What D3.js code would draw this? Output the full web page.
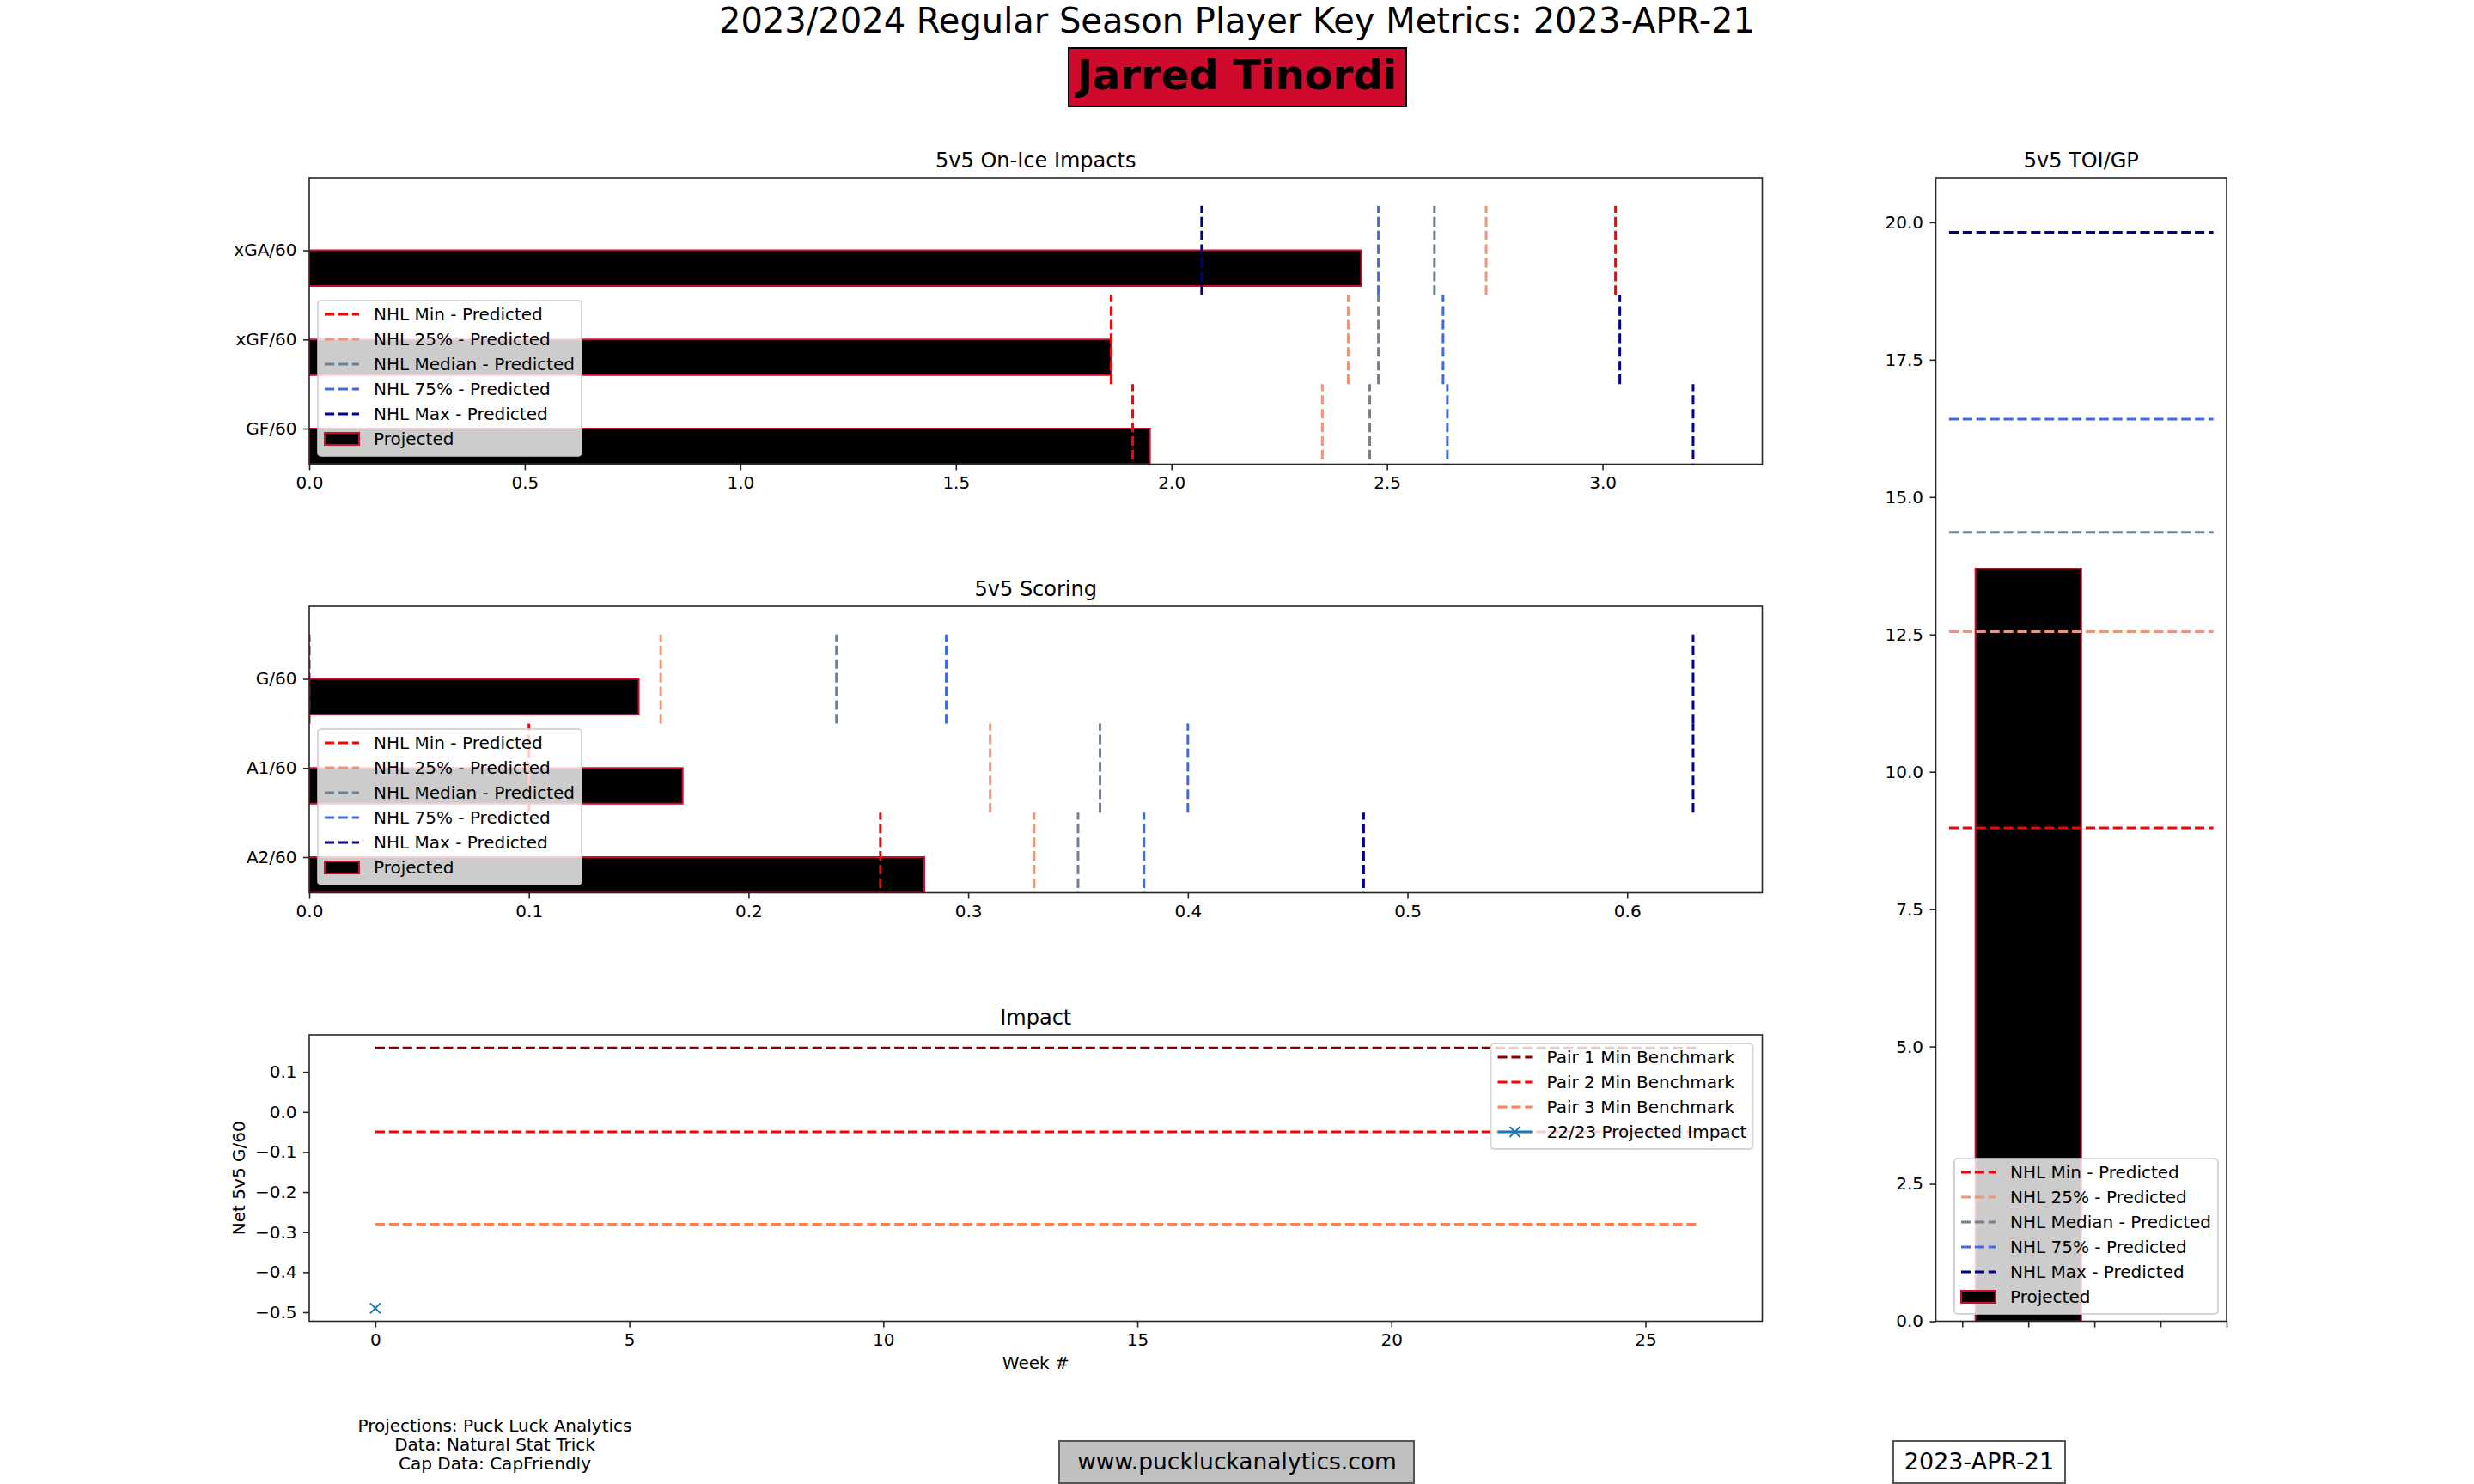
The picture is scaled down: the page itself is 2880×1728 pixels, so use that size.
<!DOCTYPE html>
<html>
<head>
<meta charset="utf-8">
<script src="https://cdn.jsdelivr.net/npm/d3@7"></script>
<style>
	body { margin: 0; background: #ffffff; }
	svg text { font-family: "DejaVu Sans", sans-serif; fill: #000000; }
</style>
</head>
<body>
<script>

//----------------------------
// Data
//----------------------------

var benchLabels = ["NHL Min - Predicted", "NHL 25% - Predicted", "NHL Median - Predicted",
	"NHL 75% - Predicted", "NHL Max - Predicted"];
var benchColors = ["#ff0000", "#e9967a", "#708090", "#4169e1", "#00008b"];

// 5v5 on-ice impacts (top to bottom)
var onIceCats = ["xGA/60", "xGF/60", "GF/60"];
var onIceProjected = [2.44, 1.86, 1.95];
var onIceMin = [3.03, 1.86, 1.91];
var onIceP25 = [2.73, 2.41, 2.35];
var onIceMedian = [2.61, 2.48, 2.46];
var onIceP75 = [2.48, 2.63, 2.64];
var onIceMax = [2.07, 3.04, 3.21];
var onIceTicks = [0, 0.5, 1.0, 1.5, 2.0, 2.5, 3.0];

// 5v5 scoring (top to bottom)
var scoringCats = ["G/60", "A1/60", "A2/60"];
var scoringProjected = [0.15, 0.17, 0.28];
var scoringMin = [0.00, 0.10, 0.26];
var scoringP25 = [0.16, 0.31, 0.33];
var scoringMedian = [0.24, 0.36, 0.35];
var scoringP75 = [0.29, 0.40, 0.38];
var scoringMax = [0.63, 0.63, 0.48];
var scoringTicks = [0, 0.1, 0.2, 0.3, 0.4, 0.5, 0.6];

// 5v5 TOI/GP
var toiProjected = 13.70;
var toiBench = [8.98, 12.55, 14.36, 16.42, 19.82];
var toiTicks = [0, 2.5, 5.0, 7.5, 10.0, 12.5, 15.0, 17.5, 20.0];

// Impact
var benchWeeks = [0, 26];
var pairLabels = ["Pair 1 Min Benchmark", "Pair 2 Min Benchmark", "Pair 3 Min Benchmark"];
var pairValues = [0.16, -0.05, -0.28];
var pairColors = ["#8b0000", "#ff0000", "#ff7f50"];
var impactLabel = "22/23 Projected Impact";
var impactWeeks = [0];
var impactValues = [-0.49];
var weekTicks = [0, 5, 10, 15, 20, 25];
var impactTicks = [0.1, 0.0, -0.1, -0.2, -0.3, -0.4, -0.5];

var footerLines = ["Projections: Puck Luck Analytics", "Data: Natural Stat Trick", "Cap Data: CapFriendly"];

//----------------------------
// Style parameters
//----------------------------

var teamRed = "#cf0a2c",
	spineColor = "#262626",
	fs = 20,
	dash = "11.1,4.8",
	lw = 3;

var svg = d3.select("body").append("svg")
	.attr("width", 2880)
	.attr("height", 1728);

svg.append("rect").attr("width", 2880).attr("height", 1728).attr("fill", "white");

// Titles

svg.append("text")
	.attr("x", 1440).attr("y", 38)
	.attr("text-anchor", "middle")
	.style("font-size", "40px")
	.text("2023/2024 Regular Season Player Key Metrics: 2023-APR-21");

svg.append("rect")
	.attr("x", 1244).attr("y", 56)
	.attr("width", 393).attr("height", 68)
	.attr("fill", teamRed)
	.attr("stroke", "#000").attr("stroke-width", 2);

svg.append("text")
	.attr("x", 1440).attr("y", 104)
	.attr("text-anchor", "middle")
	.style("font-size", "48px").style("font-weight", "bold")
	.text("Jarred Tinordi");

//----------------------------
// Helpers
//----------------------------

var clipId = 0;

function makePanel(x0, y0, w, h, title) {
	var g = svg.append("g").attr("transform", "translate(" + x0 + "," + y0 + ")");
	var id = "clip" + (clipId++);
	g.append("clipPath").attr("id", id)
		.append("rect").attr("width", w).attr("height", h);
	var plot = g.append("g").attr("clip-path", "url(#" + id + ")");
	g.append("text")
		.attr("x", w / 2).attr("y", -12.5)
		.attr("text-anchor", "middle")
		.style("font-size", "24px")
		.text(title);
	return {g: g, plot: plot, w: w, h: h};
}

function styleAxis(sel) {
	sel.select(".domain").remove();
	sel.selectAll(".tick line").attr("stroke", spineColor).attr("stroke-width", 1.6);
	sel.selectAll(".tick text")
		.attr("fill", "#000")
		.style("font-family", "'DejaVu Sans', sans-serif")
		.style("font-size", fs + "px");
}

function addAxes(p, x, y, xt, xf, yt, yf) {
	p.g.append("g")
		.attr("transform", "translate(0," + p.h + ")")
		.call(d3.axisBottom(x).tickValues(xt).tickFormat(xf).tickSize(7).tickPadding(7.5).tickSizeOuter(0))
		.call(styleAxis);
	p.g.append("g")
		.call(d3.axisLeft(y).tickValues(yt).tickFormat(yf).tickSize(7).tickPadding(7.5).tickSizeOuter(0))
		.call(styleAxis);
	p.g.append("rect")
		.attr("width", p.w).attr("height", p.h)
		.attr("fill", "none")
		.attr("stroke", spineColor).attr("stroke-width", 1.6);
}

// items: {label, color, kind: "line" | "bar" | "marker"}
function addLegend(p, lx, ly, lw2, items) {
	var rowH = 29;
	var lh = 32 + rowH * (items.length - 1) + 4;
	var lg = p.g.append("g").attr("transform", "translate(" + lx + "," + ly + ")");
	lg.append("rect")
		.attr("width", lw2).attr("height", lh)
		.attr("rx", 4).attr("ry", 4)
		.attr("fill", "white").attr("fill-opacity", 0.8)
		.attr("stroke", "#cccccc").attr("stroke-opacity", 0.8).attr("stroke-width", 2);
	var row = lg.selectAll("g.row").data(items).join("g")
		.attr("class", "row")
		.attr("transform", function(d, i) { return "translate(0," + (16 + i * rowH) + ")"; });
	row.each(function(d) {
		var r = d3.select(this);
		if (d.kind === "bar") {
			r.append("rect")
				.attr("x", 8).attr("y", -7).attr("width", 40).attr("height", 14)
				.attr("fill", "#000").attr("stroke", teamRed).attr("stroke-width", 2);
		} else {
			r.append("line")
				.attr("x1", 8).attr("x2", 48)
				.attr("stroke", d.color).attr("stroke-width", lw)
				.attr("stroke-dasharray", d.kind === "line" ? dash : null);
			if (d.kind === "marker") {
				r.append("path")
					.attr("transform", "translate(28,0)")
					.attr("d", "M-6,-6L6,6M-6,6L6,-6")
					.attr("stroke", d.color).attr("stroke-width", 2).attr("fill", "none");
			}
		}
		r.append("text")
			.attr("x", 65).attr("y", 7.2)
			.style("font-size", fs + "px")
			.text(d.label);
	});
}

var benchItems = benchLabels.map(function(l, k) { return {label: l, color: benchColors[k], kind: "line"}; })
	.concat([{label: "Projected", kind: "bar"}]);

//----------------------------
// Horizontal bar panels
//----------------------------

function barPanel(top, title, cats, projected, bench, ticks) {
	var p = makePanel(360, top, 1691.5, 333.5, title);
	var xmax = d3.max([projected].concat(bench), function(a) { return d3.max(a); }) * 1.05;
	var x = d3.scaleLinear().domain([0, xmax]).range([0, p.w]);
	var y = d3.scaleLinear().domain([-0.4, 2.815]).range([p.h, 0]);
	var pos = function(i) { return cats.length - 1 - i; };

	p.plot.selectAll("rect.bar").data(projected).join("rect")
		.attr("class", "bar")
		.attr("x", x(0))
		.attr("y", function(d, i) { return y(pos(i)); })
		.attr("width", function(d) { return x(d) - x(0); })
		.attr("height", function(d, i) { return y(pos(i) - 0.4) - y(pos(i)); })
		.attr("fill", "#000")
		.attr("stroke", teamRed).attr("stroke-width", 2);

	bench.forEach(function(vals, k) {
		p.plot.append("g").selectAll("line").data(vals).join("line")
			.attr("x1", function(d) { return x(d); })
			.attr("x2", function(d) { return x(d); })
			.attr("y1", function(d, i) { return y(pos(i) - 0.5); })
			.attr("y2", function(d, i) { return y(pos(i) + 0.5); })
			.attr("stroke", benchColors[k]).attr("stroke-width", lw)
			.attr("stroke-dasharray", dash);
	});

	addAxes(p, x, y, ticks, d3.format(".1f"), [2, 1, 0], function(d) { return cats[cats.length - 1 - d]; });
	addLegend(p, 10, 143, 307, benchItems);
}

barPanel(207, "5v5 On-Ice Impacts", onIceCats, onIceProjected,
	[onIceMin, onIceP25, onIceMedian, onIceP75, onIceMax], onIceTicks);
barPanel(706, "5v5 Scoring", scoringCats, scoringProjected,
	[scoringMin, scoringP25, scoringMedian, scoringP75, scoringMax], scoringTicks);

//----------------------------
// Impact panel
//----------------------------

(function() {
	var p = makePanel(360, 1205, 1691.5, 333.5, "Impact");
	var wext = d3.extent(benchWeeks.concat(impactWeeks));
	var vext = d3.extent(pairValues.concat(impactValues));
	var wm = (wext[1] - wext[0]) * 0.05, vm = (vext[1] - vext[0]) * 0.05;
	var x = d3.scaleLinear().domain([wext[0] - wm, wext[1] + wm]).range([0, p.w]);
	var y = d3.scaleLinear().domain([vext[0] - vm, vext[1] + vm]).range([p.h, 0]);

	p.plot.selectAll("line.pair").data(pairValues).join("line")
		.attr("class", "pair")
		.attr("x1", x(benchWeeks[0])).attr("x2", x(benchWeeks[1]))
		.attr("y1", function(d) { return y(d); })
		.attr("y2", function(d) { return y(d); })
		.attr("stroke", function(d, i) { return pairColors[i]; })
		.attr("stroke-width", lw)
		.attr("stroke-dasharray", dash);

	p.plot.selectAll("path.impact").data(impactValues).join("path")
		.attr("class", "impact")
		.attr("transform", function(d, i) { return "translate(" + x(impactWeeks[i]) + "," + y(d) + ")"; })
		.attr("d", "M-6,-6L6,6M-6,6L6,-6")
		.attr("stroke", "#1f77b4").attr("stroke-width", 2).attr("fill", "none");

	addAxes(p, x, y, weekTicks, d3.format("d"), impactTicks, d3.format(".1f"));

	p.g.append("text")
		.attr("x", p.w / 2).attr("y", 1594 - 1205)
		.attr("text-anchor", "middle")
		.style("font-size", fs + "px")
		.text("Week #");
	p.g.append("text")
		.attr("transform", "translate(" + (284.6 - 360) + "," + (p.h / 2) + ") rotate(-90)")
		.attr("text-anchor", "middle")
		.style("font-size", fs + "px")
		.text("Net 5v5 G/60");

	var items = pairLabels.map(function(l, i) { return {label: l, color: pairColors[i], kind: "line"}; })
		.concat([{label: impactLabel, color: "#1f77b4", kind: "marker"}]);
	addLegend(p, 1735.5 - 360, 10, 305, items);
})();

//----------------------------
// TOI panel
//----------------------------

(function() {
	var p = makePanel(2253.5, 207, 338.5, 1331.5, "5v5 TOI/GP");
	var x = d3.scaleLinear().domain([-0.7, 1.5]).range([0, p.w]);
	var y = d3.scaleLinear().domain([0, d3.max(toiBench.concat([toiProjected])) * 1.05]).range([p.h, 0]);

	p.plot.append("rect")
		.attr("x", x(-0.4)).attr("y", y(toiProjected))
		.attr("width", x(0.4) - x(-0.4)).attr("height", y(0) - y(toiProjected))
		.attr("fill", "#000")
		.attr("stroke", teamRed).attr("stroke-width", 2);

	p.plot.selectAll("line.bench").data(toiBench).join("line")
		.attr("class", "bench")
		.attr("x1", x(-0.6)).attr("x2", x(1.4))
		.attr("y1", function(d) { return y(d); })
		.attr("y2", function(d) { return y(d); })
		.attr("stroke", function(d, i) { return benchColors[i]; })
		.attr("stroke-width", lw)
		.attr("stroke-dasharray", dash);

	addAxes(p, x, y, [-0.5, 0, 0.5, 1.0, 1.5], function() { return ""; }, toiTicks, d3.format(".1f"));
	addLegend(p, 2275 - 2253.5, 1349 - 207, 307, benchItems);
})();

//----------------------------
// Footer
//----------------------------

svg.append("g").selectAll("text").data(footerLines).join("text")
	.attr("x", 576)
	.attr("y", function(d, i) { return 1667 + i * 22; })
	.attr("text-anchor", "middle")
	.style("font-size", fs + "px")
	.text(function(d) { return d; });

svg.append("rect")
	.attr("x", 1233).attr("y", 1678).attr("width", 413).attr("height", 49)
	.attr("fill", "#c0c0c0").attr("stroke", "#555").attr("stroke-width", 2);
svg.append("text")
	.attr("x", 1440).attr("y", 1711)
	.attr("text-anchor", "middle")
	.style("font-size", "26.5px")
	.text("www.puckluckanalytics.com");

svg.append("rect")
	.attr("x", 2204).attr("y", 1678).attr("width", 200).attr("height", 49)
	.attr("fill", "white").attr("stroke", "#555").attr("stroke-width", 2);
svg.append("text")
	.attr("x", 2304).attr("y", 1711)
	.attr("text-anchor", "middle")
	.style("font-size", "27px")
	.text("2023-APR-21");

</script>
</body>
</html>
